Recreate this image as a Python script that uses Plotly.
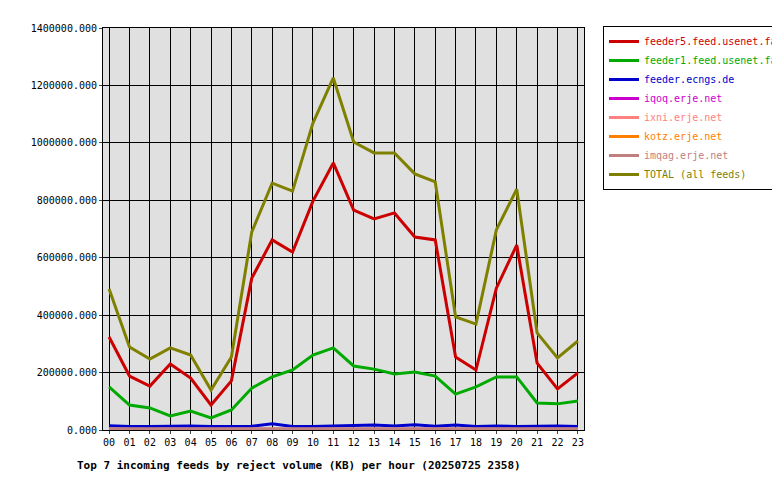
import plotly.graph_objects as go

hours = ["%02d" % h for h in range(24)]

feeder5 = [324, 188, 153, 230, 181, 87, 171, 529, 662, 620, 797, 930, 766, 735, 756, 672, 662, 254, 209, 494, 644, 233, 143, 199]
feeder1 = [150, 87, 77, 49, 66, 42, 70, 146, 185, 209, 261, 286, 223, 212, 195, 202, 188, 125, 150, 185, 185, 94, 91, 101]
ecngs = [15, 12, 12, 14, 14, 12, 13, 13, 22, 12, 12, 14, 14, 17, 14, 18, 13, 17, 12, 14, 12, 14, 14, 12]
iqoq = [2] * 24
ixni = [3] * 24
kotz = [1] * 24
imqag = [4] * 24
total = [491, 289, 247, 286, 261, 139, 254, 690, 860, 832, 1069, 1226, 1003, 965, 965, 892, 864, 394, 369, 697, 839, 338, 251, 310]

series = [
    ("feeder5.feed.usenet.farm", feeder5, "#cc0000"),
    ("feeder1.feed.usenet.farm", feeder1, "#00aa00"),
    ("feeder.ecngs.de", ecngs, "#0000cc"),
    ("iqoq.erje.net", iqoq, "#cc00cc"),
    ("ixni.erje.net", ixni, "#ff8080"),
    ("kotz.erje.net", kotz, "#ff8000"),
    ("imqag.erje.net", imqag, "#c08080"),
    ("TOTAL (all feeds)", total, "#808000"),
]

font = "DejaVu Sans Mono"
fig = go.Figure()
for name, vals, col in series:
    fig.add_trace(go.Scatter(
        x=hours, y=[v * 1000 for v in vals],
        name="<span style='color:%s'>%s</span>" % (col, name), mode="lines",
        line=dict(color=col, width=3),
    ))

fig.update_layout(
    width=780, height=480,
    margin=dict(l=95, r=780 - 576, t=20, b=480 - 422, autoexpand=False),
    paper_bgcolor="white", plot_bgcolor="#e0e0e0",
    font=dict(family=font, size=10, color="black"),
    showlegend=True,
    legend=dict(xref="container", yref="container", x=595 / 780, y=1 - 18 / 480,
                xanchor="left", yanchor="top", itemwidth=30,
                bordercolor="black", borderwidth=1, bgcolor="white",
                font=dict(family=font, size=10), tracegroupgap=0),
    annotations=[dict(text="<b>Top 7 incoming feeds by reject volume (KB) per hour (20250725 2358)</b>",
                      xref="paper", yref="paper", x=-0.058, y=-0.068, xanchor="left", yanchor="top",
                      showarrow=False, font=dict(family=font, size=11))],
)
fig.update_xaxes(showgrid=True, gridcolor="black", gridwidth=1, linecolor="black", showline=True,
                 mirror=True, ticks="outside", ticklen=3, range=[-0.3, 23.3])
fig.update_yaxes(range=[0, 1400000], dtick=200000, tickformat=".3f", showgrid=True, gridcolor="black",
                 linecolor="black", showline=True, mirror=True, ticks="outside", ticklen=3, zeroline=False)

fig.write_html("out.html")
